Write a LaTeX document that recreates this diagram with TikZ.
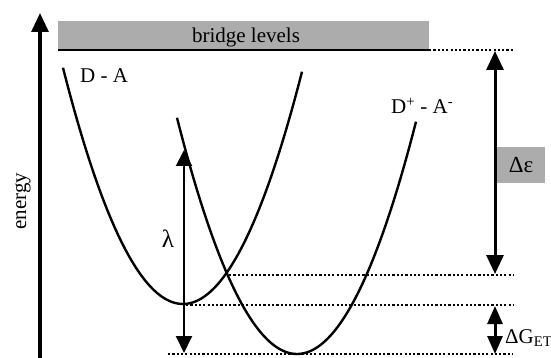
\documentclass[tikz,border=0pt]{standalone}
\usepackage{fontspec}
\setmainfont{Liberation Serif}
\usetikzlibrary{arrows.meta}
\begin{document}
\begin{tikzpicture}[x=1pt,y=-1pt,
  lbl/.style={font=\fontsize{21}{25}\selectfont, inner sep=0pt},
  curve/.style={line width=2.4pt},
  lev/.style={line width=2.3pt, dash pattern=on 2.2pt off 2.1pt},
  axisarrow/.style={line width=3.2pt, -{Triangle[width=17pt,length=19pt]}},
  bigarrow/.style={line width=3pt, {Triangle[width=17pt,length=19pt]}-{Triangle[width=17pt,length=19pt]}},
  lamarrow/.style={line width=2pt, {Triangle[width=16pt,length=16pt]}-{Triangle[width=16pt,length=17pt]}},
  smallarrow/.style={line width=3pt, {Triangle[width=15pt,length=18pt]}-{Triangle[width=15pt,length=18pt]}},
  greybox/.style={fill=gray!65, draw=none}
]
\useasboundingbox (0,0) rectangle (551,358);
% energy axis
\coordinate (ax0) at (40,358);
\coordinate (ax1) at (40,13);
\draw[axisarrow] (ax0) -- (ax1);
\node[lbl, rotate=90] (energy) at (23,201) {energy};
% bridge levels
\fill[gray!65] (58,21) rectangle (429,49);
\node[lbl] (bridge) at (246,37) {bridge levels};
\coordinate (b0) at (58,50);
\coordinate (b1) at (429,50);
\coordinate (b2) at (513,50);
\draw[line width=2.6pt] (b0) -- (b1);
\draw[lev] (b1) -- (b2);
% parabolas
\draw[curve] plot[domain=-120:119, samples=80, smooth] ({183+\x},{304-0.0164*\x*\x});
\draw[curve] plot[domain=-120:119, samples=80, smooth] ({297+\x},{354-0.0164*\x*\x});
\node[lbl, anchor=west] (da) at (80,76) {D - A};
\node[lbl, anchor=west] (dpam) at (391,106) {D\textsuperscript{+} - A\textsuperscript{-}};
% levels
\coordinate (c0) at (229,275);
\coordinate (c1) at (513,275);
\coordinate (m0) at (186,305);
\coordinate (m1) at (513,305);
\coordinate (n0) at (168,354);
\coordinate (n1) at (513,354);
\draw[lev] (c0) -- (c1);
\draw[lev] (m0) -- (m1);
\draw[lev] (n0) -- (n1);
% lambda
\coordinate (l0) at (184,150);
\coordinate (l1) at (184,353);
\draw[lamarrow] (l0) -- (l1);
\node[lbl, font=\fontsize{25}{28}\selectfont] (lam) at (168,239) {λ};
% delta epsilon
\coordinate (e0) at (495,51);
\coordinate (e1) at (495,274);
\draw[bigarrow] (e0) -- (e1);
\node[greybox, minimum width=48pt, minimum height=36pt, lbl, font=\fontsize{23}{26}\selectfont] (deps) at (521,165) {Δε};
% delta G
\coordinate (g0) at (495,306);
\coordinate (g1) at (495,354);
\draw[smallarrow] (g0) -- (g1);
\node[lbl, anchor=west] (dg) at (505,338) {ΔG\textsubscript{ET}};
\end{tikzpicture}
\end{document}
